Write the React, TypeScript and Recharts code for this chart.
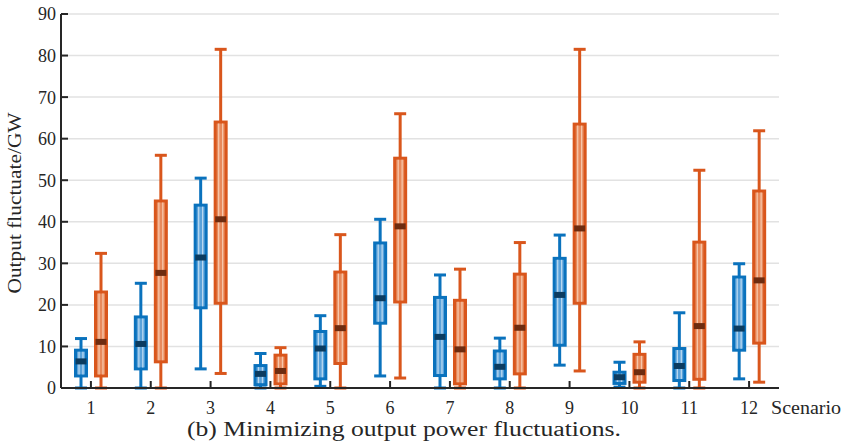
import { ComposedChart, Bar, XAxis, YAxis, CartesianGrid } from 'recharts'

const scenarios = ['1', '2', '3', '4', '5', '6', '7', '8', '9', '10', '11', '12']
const yTicks = [0, 10, 20, 30, 40, 50, 60, 70, 80, 90]

// first group (blue) – whisker ends, quartiles, median
const blueMin = [0, 0, 4.6, 0, 0.4, 2.9, 0, 0, 5.5, 0.2, 0, 2.2]
const blueQ1 = [2.9, 4.6, 19.3, 0.8, 2.2, 15.6, 3.0, 2.2, 10.3, 1.1, 1.8, 9.1]
const blueMed = [6.4, 10.6, 31.4, 3.4, 9.5, 21.6, 12.3, 5.1, 22.4, 2.6, 5.3, 14.3]
const blueQ3 = [9.1, 17.1, 44.0, 5.4, 13.6, 34.9, 21.8, 8.9, 31.2, 3.8, 9.5, 26.7]
const blueMax = [11.9, 25.2, 50.5, 8.3, 17.4, 40.6, 27.2, 12.0, 36.8, 6.2, 18.1, 29.9]

// second group (orange)
const orangeMin = [0, 0, 3.5, 0, 0, 2.4, 0, 0, 4.1, 0, 0, 1.4]
const orangeQ1 = [2.9, 6.3, 20.4, 1.0, 5.9, 20.7, 1.0, 3.4, 20.4, 1.4, 2.1, 10.8]
const orangeMed = [11.1, 27.7, 40.6, 4.1, 14.4, 38.9, 9.3, 14.5, 38.4, 3.8, 14.9, 25.9]
const orangeQ3 = [23.1, 45.0, 64.0, 7.9, 27.9, 55.3, 21.1, 27.4, 63.5, 8.1, 35.1, 47.4]
const orangeMax = [32.4, 56.0, 81.5, 9.7, 36.9, 66.0, 28.6, 35.0, 81.5, 11.1, 52.4, 61.9]

const rows = scenarios.map((name, i) => ({
  name,
  a: [blueMin[i], blueQ1[i], blueMed[i], blueQ3[i], blueMax[i]],
  b: [orangeMin[i], orangeQ1[i], orangeMed[i], orangeQ3[i], orangeMax[i]],
}))

const blue = { edge: '#0a72bd', fill: '#5aa2da', stripe: '#b9d8f0', median: '#0c3c60' }
const orange = { edge: '#d9561c', fill: '#e88a5c', stripe: '#f6c6aa', median: '#6e2c10' }

const serif =
  "'Liberation Serif', Tinos, 'Times New Roman', 'Nimbus Roman', FreeSerif, 'DejaVu Serif', serif"
const ink = '#262626'

// The bar spans min..max; quartiles and median are placed on the same linear scale.
function BoxShape(props: any) {
  const { x, y, width, height, payload, stats, tone } = props
  const s: number[] = payload[stats]
  const lo = s[0]
  const hi = s[4]
  const top = Math.min(y, y + height)
  const h = Math.abs(height)
  const py = (v: number) => top + ((hi - v) / (hi - lo)) * h
  const cx = x + width / 2
  const boxTop = py(s[3])
  const boxBottom = py(s[1])
  const inner = width - 3
  return (
    <g>
      <line x1={cx} x2={cx} y1={py(hi)} y2={py(lo)} stroke={tone.edge} strokeWidth={3} />
      <line x1={cx - 6} x2={cx + 6} y1={py(hi)} y2={py(hi)} stroke={tone.edge} strokeWidth={3} />
      <line x1={cx - 6} x2={cx + 6} y1={py(lo)} y2={py(lo)} stroke={tone.edge} strokeWidth={3} />
      <rect
        x={x + 1.5}
        y={boxTop}
        width={inner}
        height={boxBottom - boxTop}
        fill={tone.fill}
        stroke={tone.edge}
        strokeWidth={3}
      />
      {[0.36, 0.64].map((f) => (
        <line
          key={f}
          x1={x + width * f}
          x2={x + width * f}
          y1={boxTop + 1.5}
          y2={boxBottom - 1.5}
          stroke={tone.stripe}
          strokeWidth={1.3}
        />
      ))}
      <rect x={x + 1.5} y={py(s[2]) - 3} width={inner} height={6} fill={tone.median} />
    </g>
  )
}

const tickStyle = { fill: ink, fontSize: 18, style: { fontFamily: serif } }

export default function App() {
  return (
    <div
      style={{
        position: 'absolute',
        left: 0,
        top: 0,
        width: 845,
        height: 447,
        background: '#fff',
        fontFamily: serif,
      }}
    >
      <ComposedChart
        width={845}
        height={447}
        data={rows}
        margin={{ top: 14, right: 66, bottom: 29, left: 0 }}
        barSize={14}
        barGap={6}
      >
        <CartesianGrid vertical={false} stroke="#e2e2e2" strokeWidth={1.5} />
        <XAxis
          dataKey="name"
          height={30}
          tickSize={-7}
          tickMargin={20}
          axisLine={{ stroke: ink, strokeWidth: 2 }}
          tickLine={{ stroke: ink, strokeWidth: 2 }}
          tick={tickStyle}
        />
        <YAxis
          type="number"
          domain={[0, 90]}
          ticks={yTicks}
          width={61}
          tickSize={-7}
          tickMargin={12}
          axisLine={{ stroke: ink, strokeWidth: 2 }}
          tickLine={{ stroke: ink, strokeWidth: 2 }}
          tick={tickStyle}
        />
        <Bar
          dataKey={(d: any) => [d.a[0], d.a[4]]}
          isAnimationActive={false}
          shape={(p: any) => <BoxShape {...p} stats="a" tone={blue} />}
        />
        <Bar
          dataKey={(d: any) => [d.b[0], d.b[4]]}
          isAnimationActive={false}
          shape={(p: any) => <BoxShape {...p} stats="b" tone={orange} />}
        />
      </ComposedChart>
      <svg
        width={845}
        height={447}
        style={{ position: 'absolute', left: 0, top: 0, pointerEvents: 'none', fontFamily: serif }}
      >
        <text
          transform="translate(21,203) rotate(-90)"
          textAnchor="middle"
          fontSize={18}
          fill={ink}
          textLength={181}
          lengthAdjust="spacingAndGlyphs"
        >
          Output fluctuate/GW
        </text>
        <text x={771} y={414} fontSize={19} fill={ink} textLength={70} lengthAdjust="spacingAndGlyphs">
          Scenario
        </text>
        <text
          x={404}
          y={436}
          textAnchor="middle"
          fontSize={20}
          fill={ink}
          textLength={434}
          lengthAdjust="spacingAndGlyphs"
        >
          (b) Minimizing output power fluctuations.
        </text>
      </svg>
    </div>
  )
}
